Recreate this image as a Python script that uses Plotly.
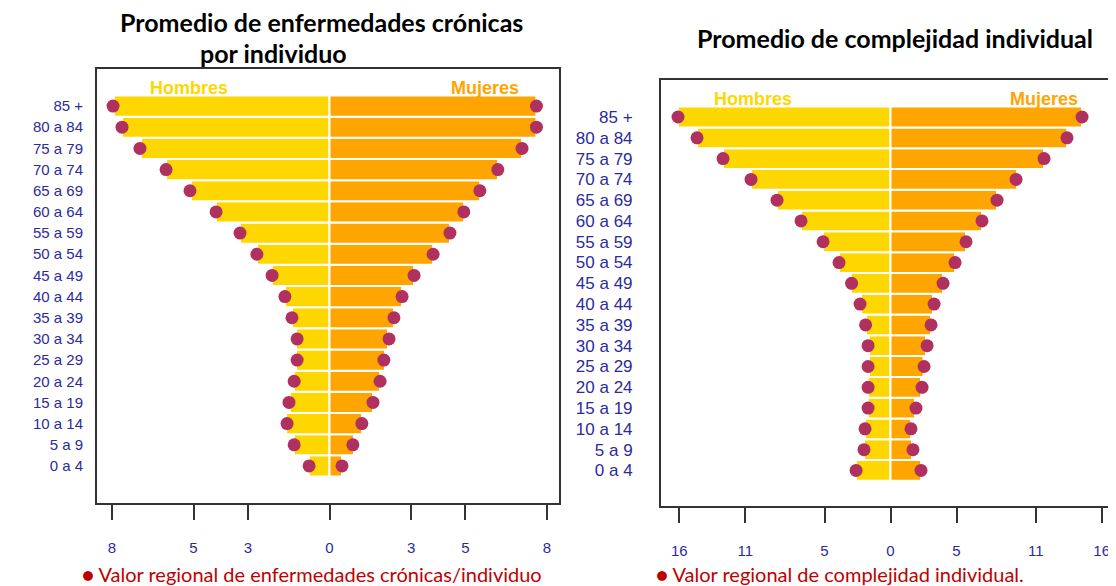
import plotly.graph_objects as go

# Age groups, bottom to top
grupos = ["0 a 4", "5 a 9", "10 a 14", "15 a 19", "20 a 24", "25 a 29",
          "30 a 34", "35 a 39", "40 a 44", "45 a 49", "50 a 54", "55 a 59",
          "60 a 64", "65 a 69", "70 a 74", "75 a 79", "80 a 84", "85 +"]

# Chronic diseases per individual (bars = local, reg = regional value)
cron_hombres = [0.76, 1.31, 1.60, 1.46, 1.31, 1.23, 1.23, 1.38, 1.64, 2.12,
                2.67, 3.29, 4.18, 5.10, 6.01, 6.93, 7.63, 7.93]
cron_hombres_reg = [0.75, 1.30, 1.56, 1.49, 1.30, 1.19, 1.19, 1.38, 1.64, 2.11,
                    2.67, 3.29, 4.17, 5.13, 6.01, 6.97, 7.63, 7.96]
cron_mujeres = [0.46, 0.90, 1.20, 1.60, 1.86, 2.04, 2.15, 2.37, 2.67, 3.11,
                3.81, 4.43, 4.95, 5.54, 6.20, 7.08, 7.61, 7.61]
cron_mujeres_reg = [0.46, 0.86, 1.19, 1.60, 1.86, 2.00, 2.19, 2.37, 2.67, 3.11,
                    3.81, 4.43, 4.94, 5.53, 6.19, 7.08, 7.61, 7.61]

# Individual complexity
comp_hombres = [2.62, 2.01, 1.94, 1.71, 1.71, 1.63, 1.63, 1.86, 2.24, 3.00,
                3.91, 5.12, 6.78, 8.60, 10.57, 12.69, 14.66, 16.10]
comp_hombres_reg = [2.61, 2.01, 1.93, 1.70, 1.70, 1.70, 1.70, 1.89, 2.31, 2.95,
                    3.90, 5.11, 6.78, 8.60, 10.57, 12.69, 14.66, 16.10]
comp_mujeres = [2.31, 1.63, 1.56, 1.86, 2.31, 2.50, 2.69, 3.07, 3.22, 3.98,
                4.89, 5.72, 6.94, 8.07, 9.59, 11.63, 13.38, 14.51]
comp_mujeres_reg = [2.31, 1.70, 1.55, 1.93, 2.39, 2.54, 2.77, 3.07, 3.30, 3.98,
                    4.89, 5.72, 6.93, 8.07, 9.51, 11.63, 13.37, 14.51]

cron_ticks = [8, 5, 3, 0, 3, 5, 8]
comp_ticks = [16, 11, 5, 0, 5, 11, 16]

GOLD = "#FFD700"
ORANGE = "#FFA500"
MAROON = "#B03060"
BLUE = "#2B2BA0"
RED = "#C00000"

W, H = 1116, 586
OFF = 8  # page body margin in the browser


def px_x(p):
    return (p - OFF) / W


def px_y(p):
    return (H - (p - OFF)) / H


fig = go.Figure()


def add_pyramid(hombres, mujeres, h_reg, m_reg, xa, ya):
    fig.add_trace(go.Bar(y=grupos, x=[-v for v in hombres], orientation="h",
                         marker=dict(color=GOLD, line=dict(color="white", width=2)),
                         width=1.0, xaxis=xa, yaxis=ya, hoverinfo="skip"))
    fig.add_trace(go.Bar(y=grupos, x=mujeres, orientation="h",
                         marker=dict(color=ORANGE, line=dict(color="white", width=2)),
                         width=1.0, xaxis=xa, yaxis=ya, hoverinfo="skip"))
    fig.add_trace(go.Scatter(y=grupos + grupos, x=[-v for v in h_reg] + m_reg,
                             mode="markers", marker=dict(color=MAROON, size=13),
                             xaxis=xa, yaxis=ya, hoverinfo="skip"))


add_pyramid(cron_hombres, cron_mujeres, cron_hombres_reg, cron_mujeres_reg, "x", "y")
add_pyramid(comp_hombres, comp_mujeres, comp_hombres_reg, comp_mujeres_reg, "x2", "y2")

axis_common = dict(showgrid=False, zeroline=False, showline=True, mirror=True,
                   linecolor="#333333", linewidth=2, automargin=False)

fig.update_layout(
    width=W, height=H,
    margin=dict(l=0, r=0, t=0, b=0),
    paper_bgcolor="white", plot_bgcolor="white",
    showlegend=False, barmode="overlay",
    font=dict(family="Liberation Sans, Arial", color=BLUE),
    xaxis=dict(domain=[px_x(97), px_x(559)], range=[-8.55, 8.44], anchor="y",
               tickvals=[-8, -5, -3, 0, 3, 5, 8], ticktext=[str(t) for t in cron_ticks],
               ticks="outside", ticklen=15, tickwidth=1.5, tickcolor="#333333",
               ticklabelstandoff=15, tickfont=dict(size=15, color=BLUE), **axis_common),
    yaxis=dict(domain=[px_y(503), px_y(69)], range=[-1.75, 18.75], anchor="x",
               type="category", categoryorder="array", categoryarray=grupos,
               ticks="", ticklabelstandoff=9, tickfont=dict(size=15, color=BLUE),
               **axis_common),
    xaxis2=dict(domain=[px_x(661), px_x(1112)], range=[-17.39, 16.78], anchor="y2",
                tickvals=[-16, -11, -5, 0, 5, 11, 16], ticktext=[str(t) for t in comp_ticks],
                ticks="outside", ticklen=15, tickwidth=1.5, tickcolor="#333333",
                ticklabelstandoff=15, tickfont=dict(size=15, color=BLUE), **axis_common),
    yaxis2=dict(domain=[px_y(506), px_y(80)], range=[-1.71, 18.78], anchor="x2",
                type="category", categoryorder="array", categoryarray=grupos,
                ticks="", ticklabelstandoff=23, tickfont=dict(size=17, color=BLUE),
                **axis_common),
)


def note(text, x, y, font, xanchor="center"):
    fig.add_annotation(text=text, xref="paper", yref="paper", x=px_x(x), y=px_y(y),
                       xanchor=xanchor, yanchor="middle", showarrow=False, font=font)


title_font = dict(family="Lato, Open Sans", size=25, color="black")
note("<b>Promedio de enfermedades crónicas</b>", 321, 22, title_font)
note("<b>por individuo</b>", 273, 53, title_font)
note("<b>Promedio de complejidad individual</b>", 895, 38, title_font)

# Sex labels inside each panel
sex_font = dict(family="Liberation Sans, Arial", size=18)
for xa, ya, xh, xm in [("x", "y", -5.17, 5.72), ("x2", "y2", -10.4, 11.6)]:
    fig.add_annotation(text="<b>Hombres</b>", xref=xa, yref=ya, x=xh, y=17.86,
                       xanchor="center", yanchor="middle",
                       showarrow=False, font=dict(color=GOLD, **sex_font))
    fig.add_annotation(text="<b>Mujeres</b>", xref=xa, yref=ya, x=xm, y=17.86,
                       xanchor="center", yanchor="middle",
                       showarrow=False, font=dict(color=ORANGE, **sex_font))

note_font = dict(family="Lato, Open Sans", size=20, color=RED)
note("● Valor regional de enfermedades crónicas/individuo", 80, 574, note_font, "left")
note("● Valor regional de complejidad individual.", 654, 574, note_font, "left")

fig.write_html("out.html")
